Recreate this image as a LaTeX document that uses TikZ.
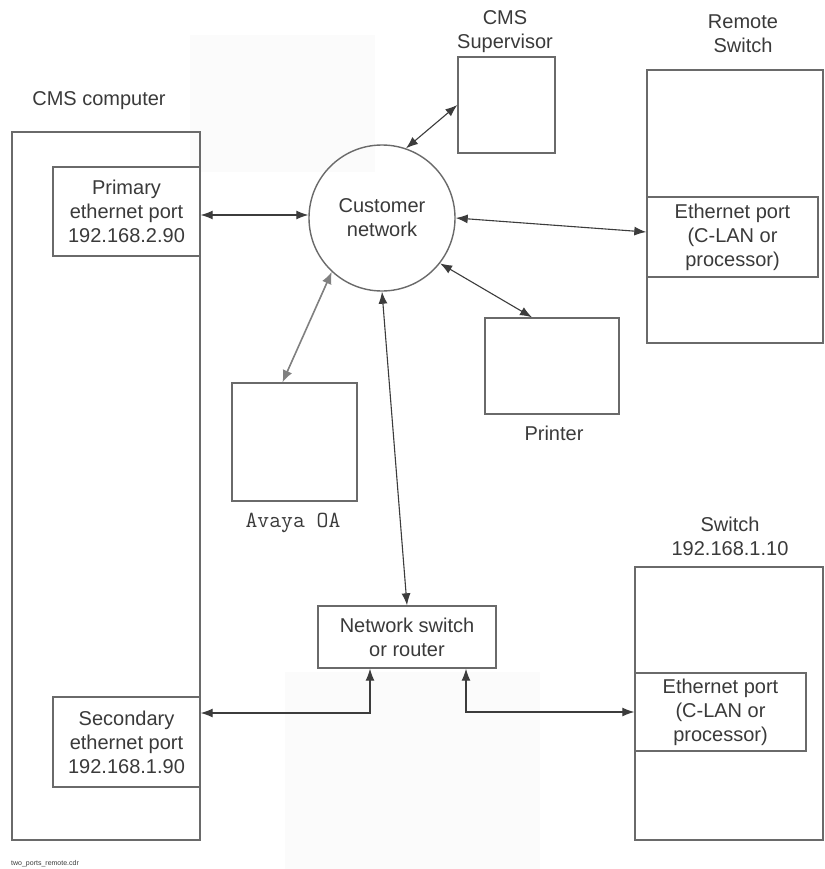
\documentclass[tikz,border=0pt]{standalone}
\usepackage{fontspec}
\setmainfont{Liberation Sans}
\usetikzlibrary{arrows.meta,shapes.geometric}
\definecolor{boxline}{HTML}{6A6A6A}
\definecolor{arrline}{HTML}{3C3C3C}
\definecolor{txt}{HTML}{3A3A3A}
\definecolor{faint}{HTML}{FBFBFB}
\begin{document}
\begin{tikzpicture}[x=1pt,y=-1pt,
  box/.style={draw=boxline,line width=1.4pt,rectangle,inner sep=0pt,align=center,text=txt,
    font=\fontsize{20}{24}\selectfont},
  lbl/.style={inner sep=0pt,align=center,text=txt,font=\fontsize{20}{24}\selectfont},
  biarrow/.style={draw=arrline,line width=1.1pt,{Latex[length=12pt,width=9pt]}-{Latex[length=12pt,width=9pt]}},
  grayarrow/.style={draw=gray,line width=1.6pt,{Latex[length=12pt,width=10pt]}-{Latex[length=12pt,width=10pt]}}]
\useasboundingbox (0,0) rectangle (824,869);
\fill[white] (0,0) rectangle (824,869);
% faint background patches
\fill[faint] (190,35) rectangle (375,172);
\fill[faint] (285,672) rectangle (540,869);

% CMS computer
\node[box,minimum width=188pt,minimum height=708pt] (cms) at (106,486) {};
\node[lbl] (cmslbl) at (99,101) {CMS computer};
\node[box,fill=white,minimum width=147pt,minimum height=89pt] (prim) at (126.5,211.5) {Primary\\ethernet port\\192.168.2.90};
\node[box,fill=white,minimum width=147pt,minimum height=90pt] (sec) at (126.5,742) {Secondary\\ethernet port\\192.168.1.90};

% Customer network
\node[box,circle,minimum size=146pt] (cn) at (382,218) {Customer\\network};

% CMS Supervisor
\node[box,minimum width=97pt,minimum height=96pt] (sup) at (506.5,105) {};
\node[lbl] (suplbl) at (505,32) {CMS\\Supervisor};

% Remote switch
\node[box,minimum width=176pt,minimum height=273pt] (rsw) at (735,206.5) {};
\node[lbl] (rswlbl) at (743,34) {Remote\\Switch};
\node[box,fill=white,minimum width=171pt,minimum height=80pt] (rport) at (732.5,237) {Ethernet port\\(C-LAN or\\processor)};

% Printer
\node[box,minimum width=134pt,minimum height=96pt] (printer) at (552,366) {};
\node[lbl] (prlbl) at (554,433) {Printer};

% Avaya OA
\node[box,minimum width=125pt,minimum height=118pt] (avaya) at (294.5,442) {};
\node[lbl,font=\ttfamily\fontsize{23}{24}\selectfont] (avlbl) at (293,523) {Avaya OA};

% Network switch
\node[box,minimum width=178pt,minimum height=62pt] (netsw) at (407,637) {Network switch\\or router};

% Switch
\node[box,minimum width=188pt,minimum height=273pt] (sw) at (729,703.5) {};
\node[lbl] (swlbl) at (730,536) {Switch\\192.168.1.10};
\node[box,fill=white,minimum width=171pt,minimum height=78pt] (swport) at (720.5,712) {Ethernet port\\(C-LAN or\\processor)};

% footer
\node[inner sep=0pt,text=txt,font=\fontsize{7}{8}\selectfont,anchor=west] (foot) at (11,864) {two\_ports\_remote.cdr};

% helper coordinates
\coordinate (pa) at ([yshift=-3.5pt]prim.east);
\coordinate (ra) at ([yshift=5pt]rport.west);
\coordinate (pr) at ([xshift=-20pt]printer.north);
\coordinate (av) at ([xshift=-12pt]avaya.north);
\coordinate (nl) at ([xshift=-37pt]netsw.south);
\coordinate (nr) at ([xshift=59pt]netsw.south);
\coordinate (sa) at ([yshift=29pt]sec.east);

% connectors
\draw[biarrow] (pa) -- (pa -| cn.west);
\draw[biarrow] (cn.71) -- (sup.west);
\draw[biarrow] (cn.east) -- (ra);
\draw[biarrow] (cn.-38) -- (pr);
\draw[grayarrow] (cn.-133) -- (av);
\draw[biarrow] (cn.south) -- (netsw.north);
\draw[biarrow] (nl) |- (sa);
\draw[biarrow] (nr) |- (swport.west);
\end{tikzpicture}
\end{document}
